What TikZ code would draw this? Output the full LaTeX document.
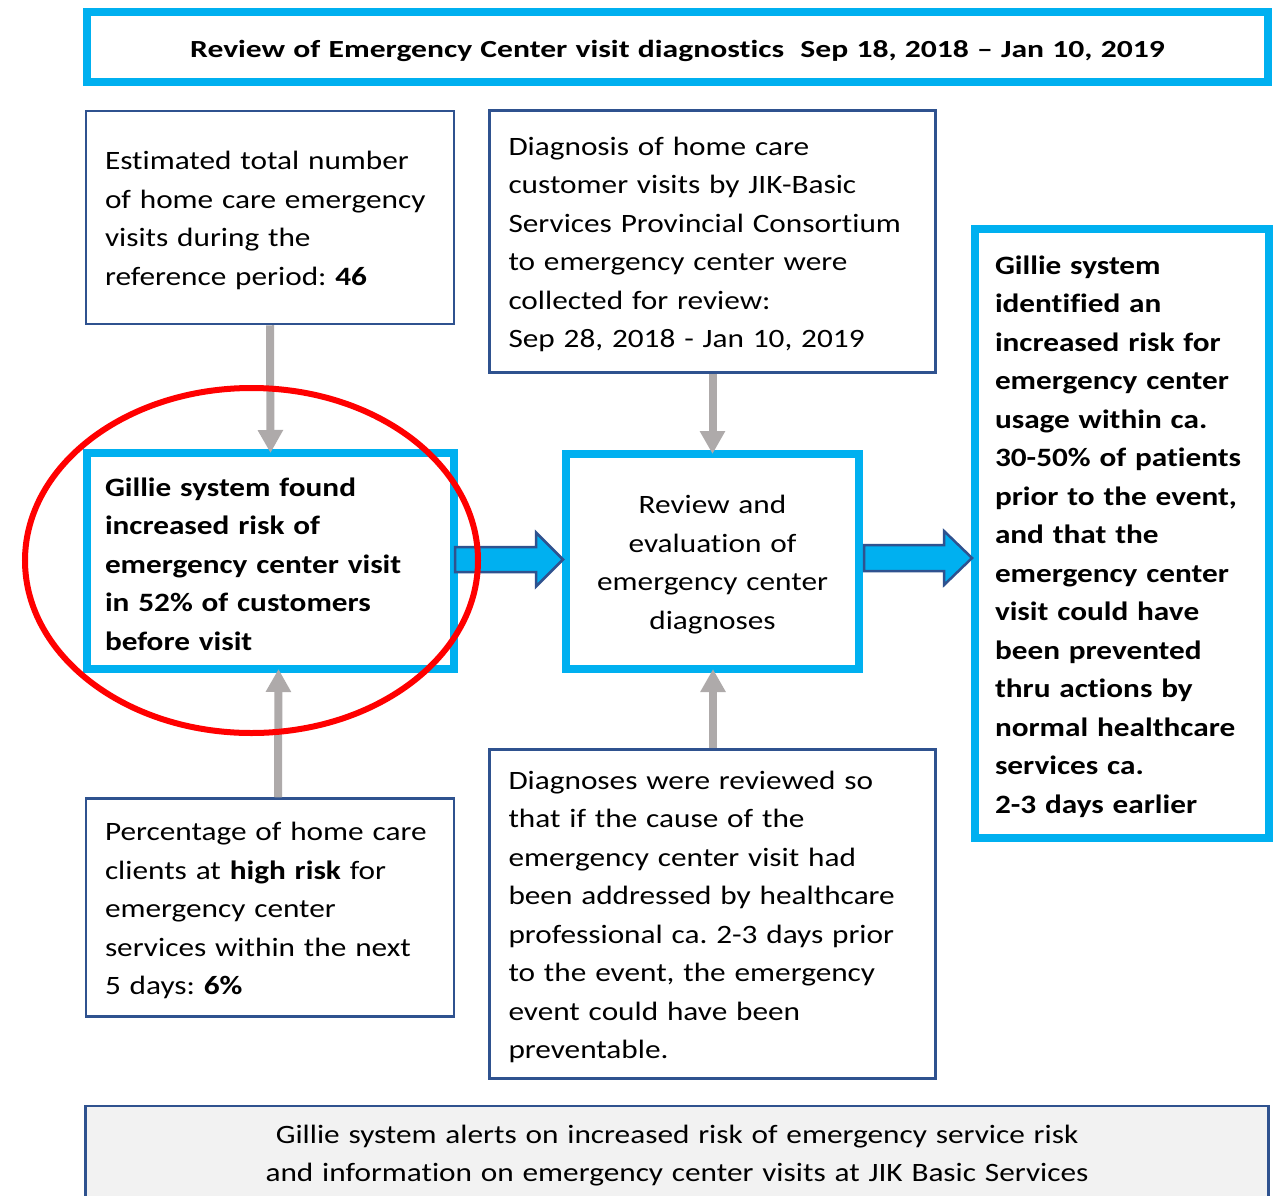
\documentclass[tikz,border=0pt]{standalone}
\usepackage{fontspec}
\setmainfont{Carlito}[FakeStretch=1.18,Ligatures=NoCommon]
\newfontfamily\titlefont{Carlito}[FakeStretch=1.285,Ligatures=NoCommon]
\usetikzlibrary{arrows.meta,calc}
\definecolor{cyanb}{RGB}{0,176,240}
\definecolor{navyb}{RGB}{47,82,143}
\definecolor{grayarr}{RGB}{174,170,170}
\definecolor{lightfill}{RGB}{242,242,242}
\tikzset{
  body/.style={font=\frenchspacing\fontsize{26.5}{38.5}\selectfont},
  bodybold/.style={font=\frenchspacing\fontsize{26.5}{38.5}\selectfont\bfseries},
  lower/.style={execute at begin node={\rule{0pt}{#1}}},
  thinbox/.style={draw=navyb, line width=2.5pt, fill=white, body, align=left, inner ysep=0pt, lower=24.5pt},
  thickbox/.style={draw=cyanb, line width=8pt, fill=white, body, inner ysep=0pt, lower=24.5pt},
  grayarrow/.style={draw=grayarr, line width=8pt, -{Triangle[width=24pt,length=23pt]}},
  bluearrow/.style={fill=cyanb, draw=navyb, line width=2.5pt, line join=miter},
}
\begin{document}
\begin{tikzpicture}[x=1pt,y=-1pt]
\clip (0,0) rectangle (1278,1195);
\fill[white] (0,0) rectangle (1278,1195);

% title
\node[thickbox, align=center, text width=1141pt, inner xsep=20pt, minimum width=1181pt, minimum height=70pt, lower=21pt, font=\titlefont\fontsize{24.6}{30}\selectfont\bfseries] (title) at (677.5,47)
  {Review of Emergency Center visit diagnostics\ \ Sep 18, 2018 – Jan 10, 2019};

% top-left box
\node[thinbox, inner xsep=19pt, text width=330pt, minimum height=213pt] (est) at (270,217.5)
  {Estimated total number\\of home care emergency\\visits during the\\reference period: \textbf{46}};

% top-middle box
\node[thinbox, inner xsep=19pt, text width=408pt, minimum height=262pt] (diag) at (712.5,241.5)
  {Diagnosis of home care\\customer visits by JIK-Basic\\Services Provincial Consortium\\to emergency center were\\collected for review:\\Sep 28, 2018 - Jan 10, 2019};

% found box
\node[thickbox, bodybold, align=left, inner xsep=18pt, text width=331pt, minimum height=216pt] (found) at (270.5,561)
  {Gillie system found\\increased risk of\\emergency center visit\\in 52\% of customers\\before visit};

% review box
\node[thickbox, align=center, inner xsep=10pt, text width=273pt, minimum height=215pt] (rev) at (712.5,561.5)
  {Review and\\evaluation of\\emergency center\\diagnoses};

% right box
\node[thickbox, bodybold, align=left, inner xsep=20pt, text width=254pt, minimum height=609pt] (ident) at (1122,533.5)
  {Gillie system\\identified an\\increased risk for\\emergency center\\usage within ca.\\30-50\% of patients\\prior to the event,\\and that the\\emergency center\\visit could have\\been prevented\\thru actions by\\normal healthcare\\services ca.\\2-3 days earlier};

% bottom-left box
\node[thinbox, inner xsep=19pt, text width=330pt, minimum height=218pt] (pct) at (270,907.5)
  {Percentage of home care\\clients at \textbf{high risk} for\\emergency center\\services within the next\\5 days: \textbf{6\%}};

% bottom-middle box
\node[thinbox, inner xsep=19pt, text width=408pt, minimum height=329pt] (revd) at (712.5,914)
  {Diagnoses were reviewed so\\that if the cause of the\\emergency center visit had\\been addressed by healthcare\\professional ca. 2-3 days prior\\to the event, the emergency\\event could have been\\preventable.};

% bottom banner
\node[draw=navyb, line width=2.5pt, fill=lightfill, body, align=center, text width=1143pt, inner xsep=20pt, minimum width=1183pt, minimum height=95pt, inner ysep=0pt, lower=23pt] (alerts) at (677,1153.5)
  {Gillie system alerts on increased risk of emergency service risk\\and information on emergency center visits at JIK Basic Services};

% gray arrows
\draw[grayarrow] (est.south) -- ([yshift=-4pt]found.north);
\draw[grayarrow] (diag.south) -- ([yshift=-4pt]rev.north);
\draw[grayarrow] ([xshift=8pt]pct.north) -- ([xshift=8pt,yshift=4pt]found.south);
\draw[grayarrow] ([xshift=0.5pt]revd.north) -- ([xshift=0.5pt,yshift=4pt]rev.south);

% block arrows
\draw[bluearrow] let \p1=(found.east), \p2=(rev.west) in
  (\x1-3pt,\y1+1.5pt+12.5pt) -- (\x2-26pt,\y1+1.5pt+12.5pt) -- (\x2-26pt,\y1+1.5pt+27pt) -- (\x2+1pt,\y1+1.5pt)
  -- (\x2-26pt,\y1+1.5pt-27pt) -- (\x2-26pt,\y1+1.5pt-12.5pt) -- (\x1-3pt,\y1+1.5pt-12.5pt) -- cycle;
\draw[bluearrow] let \p1=(rev.east), \p2=(ident.west) in
  (\x1+1pt,\y1+3.5pt+13pt) -- (\x2-27pt,\y1+3.5pt+13pt) -- (\x2-27pt,\y1+3.5pt+27pt) -- (\x2+1pt,\y1+3.5pt)
  -- (\x2-27pt,\y1+3.5pt-27pt) -- (\x2-27pt,\y1+3.5pt-13pt) -- (\x1+1pt,\y1+3.5pt-13pt) -- cycle;

% red ellipse
\draw[red, line width=6pt] (251.5,560.5) ellipse [x radius=226.5, y radius=172.5];
\end{tikzpicture}
\end{document}
